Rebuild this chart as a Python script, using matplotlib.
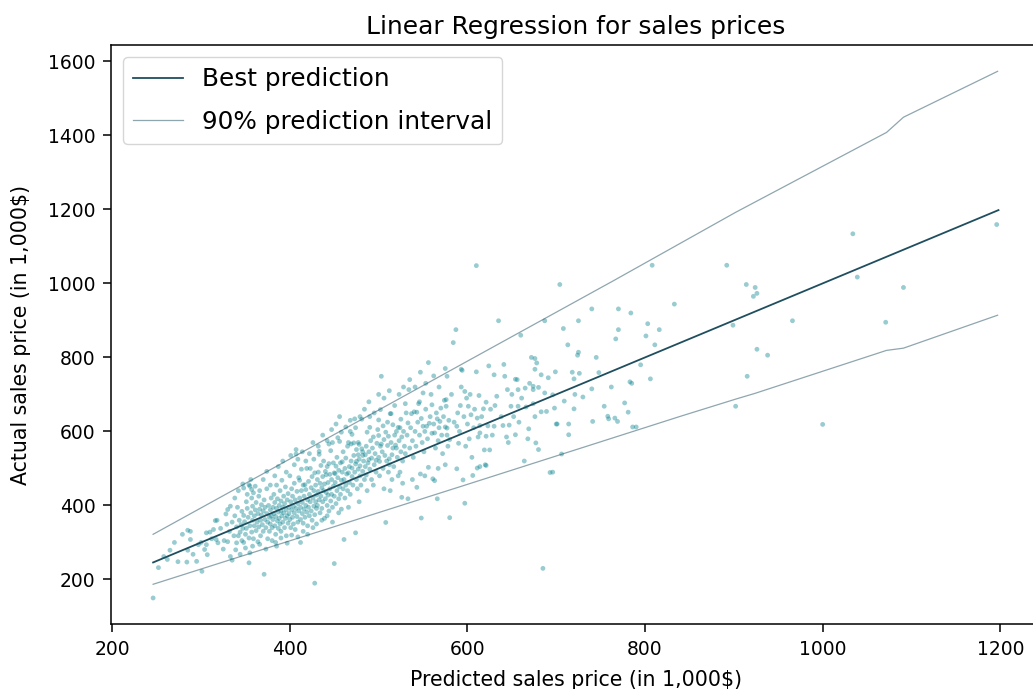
import matplotlib
matplotlib.use("Agg")
import matplotlib.pyplot as plt

# Predicted vs. actual sales prices (in 1,000$), one tuple per house
sales_points = [
    (246, 150), (252, 232), (258, 262), (262, 254), (265, 279), (270, 300), (274, 248), (279, 322),
    (284, 247), (285, 279), (285, 333), (288, 330), (288, 308), (291, 268), (295, 249), (297, 294),
    (300, 300), (301, 222), (304, 281), (306, 326), (306, 294), (307, 267), (310, 328), (312, 310),
    (314, 335), (316, 359), (318, 360), (317, 308), (319, 299), (322, 338), (325, 282), (326, 305),
    (328, 377), (329, 349), (330, 389), (330, 302),
    (332, 330), (333, 262), (335, 252), (335, 355), (337, 318), (338, 372), (340, 299), (340, 342),
    (341, 395), (342, 318), (343, 360), (344, 328), (345, 348), (346, 305), (346, 384), (347, 338),
    (348, 373), (348, 447), (348, 300), (349, 356), (350, 322), (351, 410), (351, 338), (352, 392),
    (353, 368), (354, 245), (354, 456), (354, 312), (355, 272), (355, 452), (355, 345), (356, 380),
    (357, 420), (357, 443), (357, 328), (358, 398), (358, 360), (359, 434), (359, 310), (360, 372),
    (360, 345), (361, 388), (362, 332), (362, 408), (363, 355), (364, 378), (364, 302), (365, 342),
    (365, 425), (366, 390), (367, 360), (367, 318), (368, 402), (368, 374), (369, 348), (370, 385),
    (370, 330), (371, 214), (371, 415), (372, 362), (372, 395), (373, 340), (374, 378), (374, 445),
    (375, 355), (375, 310), (376, 400), (377, 368), (377, 330), (378, 388), (378, 350), (379, 420),
    (379, 372), (380, 340), (380, 305),
    (333, 398), (338, 420), (342, 440), (347, 458), (352, 430), (356, 470), (361, 452), (366, 440),
    (370, 470), (374, 492), (378, 455), (339, 280), (344, 268), (350, 285), (358, 290), (366, 295),
    (373, 282),
    (381, 395), (381, 362), (382, 378), (382, 430), (383, 345), (383, 408), (384, 370), (384, 322),
    (385, 290), (385, 392), (385, 455), (386, 358), (386, 418), (387, 382), (387, 338), (388, 400),
    (388, 365), (389, 440), (389, 350), (390, 385), (390, 412), (390, 330), (391, 372), (391, 468),
    (392, 395), (392, 355), (393, 425), (393, 380), (394, 340), (394, 405), (395, 365), (395, 450),
    (396, 388), (396, 318), (397, 415), (397, 372), (398, 352), (398, 432), (399, 395), (399, 378),
    (400, 362), (400, 480), (401, 410), (401, 340), (402, 388), (402, 445), (403, 368), (403, 425),
    (404, 398), (404, 350), (405, 380), (405, 460), (406, 415), (406, 335), (407, 551), (407, 539),
    (407, 392), (408, 370), (408, 438), (409, 405), (409, 355), (410, 385), (410, 475), (411, 420),
    (411, 468), (412, 300), (412, 395), (412, 362), (413, 440), (413, 498), (414, 378), (414, 408),
    (415, 352), (415, 455), (416, 390), (416, 425), (417, 456), (417, 368), (418, 443), (418, 400),
    (419, 500), (419, 382), (420, 415), (420, 345), (421, 465), (421, 395), (422, 430), (422, 372),
    (423, 500), (423, 410), (424, 385), (424, 448), (425, 360), (425, 478), (426, 420), (426, 570),
    (427, 398), (427, 440), (428, 190), (428, 488), (428, 375), (429, 455), (429, 410), (430, 392),
    (430, 428), (430, 350),
    (383, 480), (387, 505), (392, 520), (396, 490), (401, 535), (405, 510), (409, 525), (414, 545),
    (418, 520), (422, 540), (427, 525), (384, 300), (390, 312), (397, 298), (402, 320), (409, 315),
    (415, 330), (420, 322), (426, 340),
    (431, 470), (431, 400), (432, 490), (432, 438), (433, 546), (433, 538), (433, 415), (434, 380),
    (434, 460), (435, 508), (435, 425), (436, 448), (436, 392), (437, 478), (437, 410), (438, 520),
    (438, 440), (439, 365), (439, 458), (440, 492), (440, 418), (441, 483), (441, 435), (442, 400),
    (442, 505), (443, 462), (443, 428), (444, 513), (444, 566), (444, 385), (445, 484), (445, 445),
    (446, 548), (446, 412), (447, 470), (447, 430), (448, 570), (448, 395), (449, 515), (449, 452),
    (450, 243), (450, 488), (450, 425), (451, 486), (451, 462), (452, 506), (452, 405), (453, 440),
    (453, 530), (454, 583), (454, 475), (455, 418), (455, 495), (456, 640), (456, 573), (456, 450),
    (457, 430), (457, 515), (458, 468), (458, 390), (459, 518), (459, 490), (460, 445), (460, 545),
    (461, 308), (461, 470), (462, 500), (462, 420), (463, 528), (463, 455), (464, 485), (465, 440),
    (465, 560), (466, 570), (466, 488), (467, 505), (467, 462), (468, 600), (468, 430), (469, 566),
    (469, 520), (470, 592), (470, 501), (470, 478), (471, 455), (472, 569), (472, 535), (473, 634),
    (473, 490), (474, 326), (474, 512), (475, 551), (475, 519), (475, 470), (476, 445), (477, 537),
    (477, 570), (477, 498), (478, 565), (478, 525), (479, 507), (479, 480), (480, 455),
    (432, 560), (437, 590), (442, 575), (447, 605), (452, 620), (458, 598), (463, 612), (468, 630),
    (474, 610), (479, 640), (436, 360), (442, 372), (448, 355), (455, 380), (466, 395), (478, 410),
    (481, 553), (481, 633), (482, 545), (482, 535), (482, 492), (483, 520), (484, 470), (485, 537),
    (485, 505), (486, 560), (486, 482), (487, 598), (488, 515), (489, 524), (489, 545), (490, 640),
    (490, 611), (490, 498), (491, 575), (492, 528), (492, 470), (493, 555), (494, 585), (495, 510),
    (496, 540), (497, 522), (497, 490), (498, 568), (499, 605), (500, 589), (500, 631), (500, 530),
    (501, 519), (501, 480), (502, 659), (502, 560), (503, 566), (503, 749), (504, 545), (505, 500),
    (505, 615), (506, 578), (507, 535), (508, 354), (508, 598), (509, 520), (510, 562), (510, 625),
    (511, 587), (511, 490), (512, 526), (512, 510), (513, 648), (513, 440), (514, 648), (514, 570),
    (515, 537), (516, 618), (516, 555), (517, 505), (518, 590), (519, 563), (520, 555), (520, 600),
    (521, 530), (522, 611), (522, 480), (523, 575), (524, 490), (524, 610), (525, 633), (525, 545),
    (526, 422), (526, 585), (527, 520), (528, 600), (529, 560), (530, 675), (530, 540),
    (484, 660), (489, 680), (495, 650), (500, 700), (506, 690), (512, 710), (518, 670), (523, 700),
    (528, 720), (487, 440), (494, 455), (506, 445), (515, 470), (527, 460),
    (531, 650), (532, 590), (533, 623), (533, 418), (534, 713), (535, 555), (536, 610), (537, 648),
    (538, 575), (539, 530), (540, 653), (541, 600), (542, 560), (543, 449), (543, 652), (544, 625),
    (545, 675), (546, 680), (546, 590), (547, 485), (548, 366), (548, 635), (549, 570), (550, 704),
    (550, 614), (551, 545), (552, 600), (553, 660), (554, 614), (555, 580), (556, 786), (556, 503),
    (557, 622), (558, 640), (559, 700), (560, 672), (560, 595), (561, 472), (562, 620), (563, 467),
    (563, 596), (564, 555), (565, 650), (566, 418), (566, 634), (567, 575), (568, 610), (569, 627),
    (570, 663), (571, 590), (572, 540), (573, 640), (574, 684), (575, 612), (576, 668), (576, 686),
    (577, 749), (577, 590), (577, 609), (578, 560), (579, 630), (580, 578), (580, 367),
    (535, 740), (541, 720), (547, 760), (553, 730), (562, 750), (568, 720), (575, 770), (538, 470),
    (552, 480), (567, 500), (575, 510),
    (582, 700), (584, 840), (585, 625), (587, 875), (588, 614), (588, 499), (589, 650), (590, 568),
    (591, 600), (592, 670), (593, 720), (593, 768), (594, 765), (595, 469), (596, 640), (597, 708),
    (597, 406), (598, 560), (599, 690), (600, 620), (601, 668), (602, 580), (603, 700), (604, 645),
    (605, 530), (606, 481), (607, 610), (608, 660), (610, 761), (610, 1048), (611, 501), (611, 636),
    (612, 585), (613, 697), (614, 616), (614, 596), (614, 505), (616, 640), (618, 661), (619, 550),
    (620, 510), (621, 679), (621, 587), (621, 508), (623, 615), (624, 777), (625, 550), (626, 660),
    (628, 590), (630, 614), (630, 753),
    (631, 670), (633, 695), (635, 899), (638, 640), (640, 616), (641, 781), (642, 749), (644, 585),
    (645, 713), (646, 570), (647, 617), (649, 668), (650, 700), (652, 640), (654, 591), (654, 741),
    (656, 740), (657, 668), (657, 713), (658, 625), (660, 860), (661, 690), (664, 520), (665, 717),
    (666, 666), (668, 580), (669, 607), (670, 730), (672, 800), (674, 722), (674, 713), (674, 675),
    (676, 640), (676, 768), (676, 797), (677, 569), (678, 785), (680, 551), (680, 719),
    (683, 653), (683, 753), (685, 230), (687, 704), (687, 899), (689, 654), (691, 745), (693, 489),
    (696, 699), (696, 490), (698, 663), (699, 761), (700, 620), (701, 620), (704, 997), (706, 539),
    (708, 878), (709, 682), (713, 834), (714, 620), (714, 591), (718, 760), (720, 661), (720, 742),
    (721, 700), (724, 806), (725, 814), (725, 899), (726, 757), (730, 693),
    (740, 931), (740, 715), (741, 627), (745, 800), (748, 759), (754, 668), (758, 641), (759, 634),
    (762, 720), (766, 636), (767, 850), (769, 627), (770, 931), (770, 875), (777, 677), (781, 652),
    (783, 734), (784, 920), (785, 730), (786, 612), (790, 612), (795, 780), (801, 858), (803, 891),
    (806, 742), (808, 1049), (811, 834), (816, 875), (833, 944),
    (892, 1049), (899, 887), (902, 668), (914, 997), (915, 749), (922, 965), (924, 989), (926, 973),
    (926, 822), (938, 806), (966, 899), (1000, 619), (1034, 1134), (1039, 1017), (1071, 895),
    (1091, 989), (1196, 1159),
]
predicted = [p for p, _ in sales_points]
actual = [a for _, a in sales_points]

# Regression line (identity on the predictions) and the 90% interval bounds
line_x = [246, 1198]
line_y = [246, 1198]
upper_x = [246, 600, 765, 902, 1072, 1091, 1197]
upper_y = [322, 790, 1008, 1192, 1408, 1449, 1573]
lower_x = [246, 600, 840, 903, 924, 1072, 1091, 1197]
lower_y = [187, 457, 641, 688, 703, 819, 825, 914]

POINT_COLOR = "#00808c"
LINE_COLOR = "#1f4e5f"

fig = plt.figure(figsize=(10.33, 6.89), dpi=100)
ax = fig.add_axes([0.1073, 0.0939, 0.9002, 0.8408])

ax.scatter(predicted, actual, s=12, color=POINT_COLOR, alpha=0.4, edgecolors="none")
ax.plot(line_x, line_y, color=LINE_COLOR, linewidth=1.3, label="Best prediction")
ax.plot(upper_x, upper_y, color=LINE_COLOR, linewidth=0.9, alpha=0.5,
        label="90% prediction interval")
ax.plot(lower_x, lower_y, color=LINE_COLOR, linewidth=0.9, alpha=0.5)

ax.set_title("Linear Regression for sales prices", fontsize=17.9, pad=8)
ax.set_xlabel("Predicted sales price (in 1,000$)", fontsize=14.8, labelpad=8)
ax.set_ylabel("Actual sales price (in 1,000$)", fontsize=14.8, labelpad=12)
ax.tick_params(labelsize=13.5, length=6, width=1.1, pad=5)
for spine in ax.spines.values():
    spine.set_linewidth(1.1)

ax.legend(loc="upper left", fontsize=17.8, labelspacing=0.75)

fig.savefig("out.png", dpi=100)
